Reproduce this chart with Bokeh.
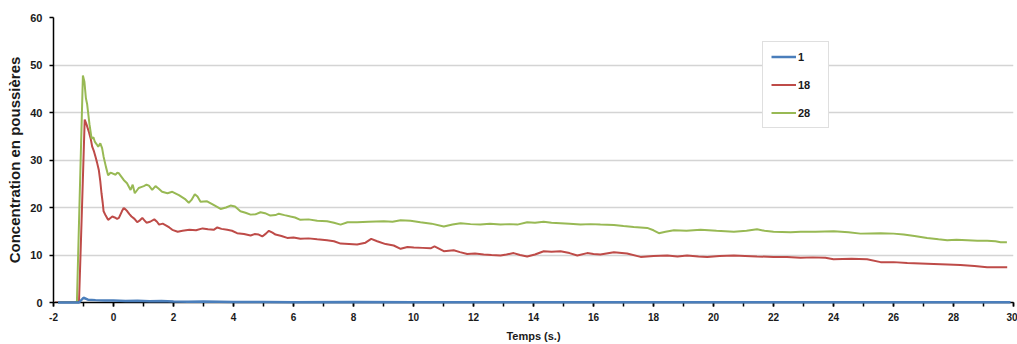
from bokeh.plotting import figure
from bokeh.models import (Range1d, Legend, LegendItem, SingleIntervalTicker,
                          FixedTicker, PrintfTickFormatter)
from bokeh.embed import file_html
from bokeh.resources import INLINE

# ---- data ----
series_names = ["1", "18", "28"]

x_28 = [-1.85, -1.22, -1.12, -1.02, -0.97, -0.92, -0.88, -0.80, -0.73, -0.67,
        -0.62, -0.56, -0.51, -0.44, -0.38, -0.33, -0.25, -0.18, -0.10, -0.04,
        0.07, 0.12, 0.18, 0.26, 0.34, 0.45, 0.57, 0.64, 0.71, 0.84,
        0.92, 1.01, 1.10, 1.18, 1.29, 1.40, 1.50, 1.62, 1.80, 1.96,
        2.18, 2.40, 2.51, 2.60, 2.71, 2.80, 2.90, 3.12, 3.35, 3.57,
        3.75, 3.90, 4.05, 4.23, 4.40, 4.57, 4.75, 4.90, 5.05, 5.23,
        5.40, 5.51, 5.70, 5.90, 6.05, 6.23, 6.50, 6.79, 7.12, 7.35,
        7.57, 7.80, 8.12, 8.50, 9.01, 9.30, 9.57, 9.90, 10.23, 10.60,
        11.01, 11.30, 11.57, 11.90, 12.23, 12.55, 12.90, 13.20, 13.46, 13.79,
        14.05, 14.34, 14.60, 14.90, 15.20, 15.57, 15.90, 16.23, 16.68, 17.00,
        17.34, 17.79, 18.00, 18.18, 18.40, 18.68, 19.10, 19.57, 20.10, 20.68,
        21.10, 21.45, 21.70, 22.00, 22.57, 22.90, 23.40, 24.01, 24.50, 24.90,
        25.57, 26.00, 26.34, 26.70, 27.12, 27.50, 27.79, 28.10, 28.46, 28.80,
        29.12, 29.40, 29.57, 29.78]
y_28 = [0, 0, 24.0, 47.8, 46.5, 43.0, 41.8, 37.5, 34.5, 34.8,
        33.8, 33.3, 32.8, 33.5, 32.5, 30.7, 28.5, 26.8, 27.3, 27.2,
        26.9, 27.3, 27.2, 26.5, 25.8, 25.1, 23.7, 24.8, 23.0, 24.1,
        24.3, 24.5, 24.8, 24.6, 23.7, 24.5, 24.0, 23.3, 23.0, 23.3,
        22.6, 21.7, 21.0, 21.6, 22.8, 22.3, 21.2, 21.3, 20.5, 19.7,
        20.0, 20.4, 20.2, 19.2, 18.9, 18.5, 18.6, 19.0, 18.8, 18.3,
        18.4, 18.7, 18.4, 18.1, 17.9, 17.4, 17.5, 17.2, 17.1, 16.8,
        16.4, 16.9, 16.9, 17.0, 17.1, 17.0, 17.3, 17.2, 16.9, 16.6,
        16.0, 16.4, 16.7, 16.5, 16.4, 16.6, 16.4, 16.5, 16.4, 16.9,
        16.8, 17.0, 16.8, 16.7, 16.6, 16.4, 16.5, 16.4, 16.3, 16.1,
        15.9, 15.7, 15.2, 14.6, 14.9, 15.2, 15.1, 15.3, 15.1, 14.9,
        15.1, 15.4, 15.1, 14.9, 14.8, 14.9, 14.9, 15.0, 14.8, 14.5,
        14.6, 14.5, 14.3, 14.0, 13.6, 13.3, 13.1, 13.2, 13.1, 13.0,
        13.0, 12.9, 12.7, 12.7]

x_18 = [-1.95, -1.15, -1.05, -0.96, -0.90, -0.82, -0.76, -0.71, -0.65, -0.60,
        -0.55, -0.49, -0.44, -0.40, -0.36, -0.33, -0.26, -0.18, -0.10, -0.04,
        0.04, 0.12, 0.18, 0.23, 0.28, 0.34, 0.40, 0.46, 0.53, 0.60,
        0.70, 0.79, 0.88, 0.96, 1.03, 1.10, 1.22, 1.36, 1.45, 1.52,
        1.64, 1.76, 1.86, 1.96, 2.14, 2.30, 2.53, 2.75, 2.97, 3.15,
        3.34, 3.46, 3.60, 3.79, 3.95, 4.12, 4.35, 4.57, 4.70, 4.84,
        4.96, 5.08, 5.18, 5.30, 5.40, 5.60, 5.79, 6.00, 6.23, 6.50,
        6.79, 7.12, 7.35, 7.57, 7.85, 8.12, 8.40, 8.59, 8.79, 9.07,
        9.34, 9.57, 9.80, 10.01, 10.30, 10.57, 10.70, 11.01, 11.34, 11.55,
        11.79, 12.05, 12.34, 12.60, 12.90, 13.10, 13.34, 13.55, 13.79, 14.05,
        14.34, 14.60, 14.90, 15.20, 15.46, 15.79, 16.00, 16.23, 16.68, 17.12,
        17.57, 18.00, 18.46, 18.80, 19.12, 19.50, 19.79, 20.20, 20.68, 21.05,
        21.45, 22.00, 22.45, 22.90, 23.30, 23.73, 24.00, 24.60, 25.12, 25.57,
        26.00, 26.46, 26.90, 27.34, 27.80, 28.23, 28.70, 29.12,
        29.50, 29.79]
y_18 = [0, 0, 20.0, 38.5, 37.5, 35.9, 34.5, 32.8, 31.8, 30.7,
        29.5, 27.9, 25.5, 23.0, 21.0, 19.2, 18.3, 17.4, 17.8, 18.1,
        17.9, 17.6, 17.8, 18.5, 19.2, 19.9, 19.6, 19.2, 18.6, 18.1,
        17.6, 16.9, 17.3, 17.8, 17.3, 16.8, 17.0, 17.5, 17.0, 16.4,
        16.6, 16.2, 15.8, 15.3, 14.9, 15.1, 15.3, 15.2, 15.6, 15.4,
        15.3, 15.8, 15.5, 15.3, 15.1, 14.6, 14.4, 14.1, 14.4, 14.3,
        13.9, 14.5, 15.1, 14.7, 14.3, 14.0, 13.6, 13.7, 13.4, 13.5,
        13.3, 13.1, 12.9, 12.4, 12.3, 12.2, 12.6, 13.4, 12.9, 12.3,
        12.0, 11.3, 11.7, 11.6, 11.5, 11.4, 11.8, 10.8, 11.0, 10.6,
        10.2, 10.3, 10.1, 10.0, 9.9, 10.1, 10.4, 10.0, 9.7, 10.1,
        10.8, 10.7, 10.8, 10.4, 9.9, 10.4, 10.2, 10.1, 10.6, 10.3,
        9.6, 9.8, 9.9, 9.7, 9.9, 9.7, 9.6, 9.8, 9.9, 9.8,
        9.7, 9.6, 9.6, 9.4, 9.5, 9.4, 9.1, 9.2, 9.1, 8.5,
        8.5, 8.3, 8.2, 8.1, 8.0, 7.9, 7.7, 7.4,
        7.4, 7.4]

x_1 = [-1.85, -1.15, -1.00, -0.85, -0.60, -0.30, 0.00, 0.40, 0.80, 1.20,
       1.60, 2.00, 2.50, 3.00, 4.00, 5.00, 6.00, 8.00, 10.00, 12.00,
       14.00, 16.00, 18.00, 20.00, 22.00, 24.00, 26.00, 28.00, 29.90]
y_1 = [0, 0, 1.0, 0.6, 0.5, 0.4, 0.4, 0.3, 0.35, 0.25,
       0.3, 0.2, 0.15, 0.2, 0.1, 0.1, 0.05, 0.1, 0.05, 0.05,
       0.05, 0.05, 0.05, 0.05, 0.05, 0.05, 0.05, 0.05, 0.05]

y_ticks = [0, 10, 20, 30, 40, 50, 60]
x_label = "Temps (s.)"
y_label = "Concentration en poussières"

# ---- styling ----
FONT = "Liberation Sans"
TXT = "#1a1a1a"
colors = {"1": "#4a7ebb", "18": "#be4b48", "28": "#98b954"}

p = figure(width=1017, height=344, output_backend="svg", toolbar_location=None,
           x_range=Range1d(-2, 30), y_range=Range1d(0, 60),
           min_border_left=53, min_border_right=4, min_border_top=17,
           min_border_bottom=41)
p.outline_line_color = None
p.background_fill_color = "white"
p.border_fill_color = "white"

p.xgrid.grid_line_color = None
p.ygrid.grid_line_color = "#d4d4d4"
p.ygrid.grid_line_width = 1.5

p.xaxis.ticker = SingleIntervalTicker(interval=2, num_minor_ticks=2)
p.yaxis.ticker = FixedTicker(ticks=y_ticks)
p.xaxis.formatter = PrintfTickFormatter(format="%d")
p.yaxis.formatter = PrintfTickFormatter(format="%d")

for ax in (p.xaxis, p.yaxis):
    ax.axis_line_color = "#000000"
    ax.axis_line_width = 1.5
    ax.major_tick_line_color = "#000000"
    ax.major_tick_line_width = 1.5
    ax.major_tick_in = 0
    ax.major_tick_out = 4
    ax.major_label_text_font = FONT
    ax.major_label_text_font_style = "bold"
    ax.major_label_text_font_size = "10px"
    ax.major_label_text_color = TXT
    ax.axis_label_text_font = FONT
    ax.axis_label_text_font_style = "bold"
    ax.axis_label_text_color = TXT

p.xaxis.minor_tick_line_color = "#000000"
p.xaxis.minor_tick_line_width = 1.5
p.xaxis.minor_tick_in = 0
p.xaxis.minor_tick_out = 4
p.xaxis.major_label_standoff = 6
p.xaxis.axis_label = x_label
p.xaxis.axis_label_text_font_size = "11px"
p.xaxis.axis_label_standoff = 6

p.yaxis.minor_tick_line_color = None
p.yaxis.major_label_standoff = 7
p.yaxis.major_label_text_font_size = "11px"
p.yaxis.axis_label = y_label
p.yaxis.axis_label_text_font_size = "15px"
p.yaxis.axis_label_standoff = 4

r1 = p.line(x_1, y_1, line_color=colors["1"], line_width=2.5, level="overlay")
r18 = p.line(x_18, y_18, line_color=colors["18"], line_width=2)
r28 = p.line(x_28, y_28, line_color=colors["28"], line_width=2)

legend = Legend(items=[LegendItem(label=series_names[0], renderers=[r1]),
                       LegendItem(label=series_names[1], renderers=[r18]),
                       LegendItem(label=series_names[2], renderers=[r28])],
                location=(709, 174), border_line_color="#bfbfbf",
                border_line_width=1.5,
                background_fill_color="white", background_fill_alpha=1,
                padding=8, spacing=15, margin=0,
                glyph_width=25, glyph_height=13, label_height=13,
                label_width=22, label_standoff=2,
                label_text_font=FONT, label_text_font_style="bold",
                label_text_font_size="11px", label_text_color=TXT)
p.add_layout(legend)

open("out.html", "w").write(file_html(p, INLINE))
